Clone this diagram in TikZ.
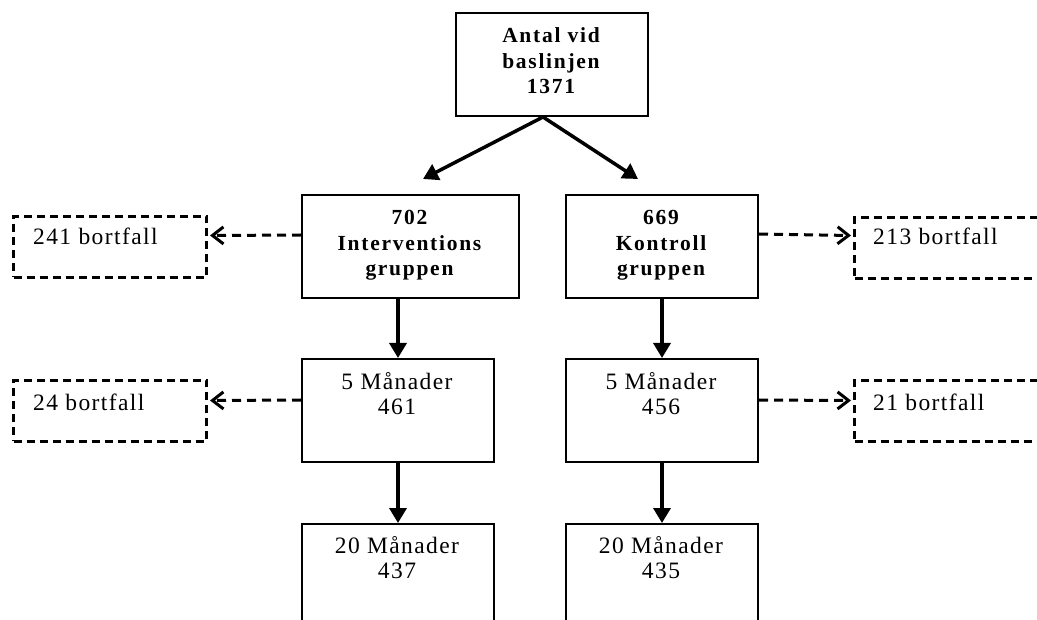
\documentclass[tikz,border=0pt]{standalone}
\usepackage{fontspec}
\setmainfont{Liberation Serif}
\newfontfamily\regsp[LetterSpace=6]{Liberation Serif}
\newfontfamily\boldsp[LetterSpace=8]{Liberation Serif}
\usetikzlibrary{arrows.meta}
\begin{document}
\begin{tikzpicture}[x=1pt,y=-1pt,
  box/.style={draw, line width=2pt, rectangle, inner sep=0pt, anchor=north west},
  dbox/.style={draw, line width=3pt, dash pattern=on 8pt off 5pt, rectangle, inner sep=0pt, anchor=north west},
  rtxt/.style={font={\regsp\fontsize{23.5}{25.5}\selectfont}, inner sep=0pt, align=center},
  btxt/.style={font={\boldsp\bfseries\fontsize{21.5}{25.5}\selectfont}, inner sep=0pt, align=center},
  arr/.style={line width=3.5pt, -{Triangle[length=15pt,width=17pt]}},
  darr/.style={line width=3pt, dash pattern=on 9pt off 6pt, -{Straight Barb[length=11pt,width=17pt]}}]
\path[use as bounding box, clip] (0,0) rectangle (1037,620);
\fill[white] (0,0) rectangle (1037,620);
% boxes
\node[box, minimum width=192pt, minimum height=103pt] (top) at (455,12) {};
\node[box, minimum width=217pt, minimum height=103pt] (ml) at (301,194) {};
\node[box, minimum width=192pt, minimum height=103pt] (mr) at (565,194) {};
\node[box, minimum width=192pt, minimum height=103pt] (m5l) at (301,358) {};
\node[box, minimum width=192pt, minimum height=103pt] (m5r) at (565,358) {};
\node[box, minimum width=192pt, minimum height=130pt] (m20l) at (301,523) {};
\node[box, minimum width=192pt, minimum height=130pt] (m20r) at (565,523) {};
\node[dbox, minimum width=193pt, minimum height=61pt] (dl1) at (12,215) {};
\node[dbox, minimum width=193pt, minimum height=61pt] (dl2) at (12,379) {};
\node[dbox, minimum width=230pt, minimum height=61pt] (dr1) at (853,216) {};
\node[dbox, minimum width=230pt, minimum height=61pt] (dr2) at (853,379) {};
% texts
\node[btxt, anchor=north] (ttop) at (551,27.5) {Antal vid\\baslinjen\\1371};
\node[btxt, anchor=north] (tml) at (409.5,210.5) {702\\Interventions\\gruppen};
\node[btxt, anchor=north] (tmr) at (661,210.5) {669\\Kontroll\\gruppen};
\node[rtxt, anchor=north] (tm5l) at (397,372) {5 Månader\\461};
\node[rtxt, anchor=north] (tm5r) at (661,372) {5 Månader\\456};
\node[rtxt, anchor=north] (tm20l) at (397,536) {20 Månader\\437};
\node[rtxt, anchor=north] (tm20r) at (661,536) {20 Månader\\435};
\node[rtxt, anchor=base west] (tdl1) at (33,245) {241 bortfall};
\node[rtxt, anchor=base west] (tdl2) at (33,410) {24 bortfall};
\node[rtxt, anchor=base west] (tdr1) at (873,245) {213 bortfall};
\node[rtxt, anchor=base west] (tdr2) at (873,410) {21 bortfall};
% connectors
\draw[arr] ([xshift=-9pt]top.south) -- ([xshift=12.5pt,yshift=15pt]ml.north);
\draw[arr] ([xshift=-9pt]top.south) -- ([xshift=-24pt,yshift=15pt]mr.north);
\draw[arr] (m5l.north |- ml.south) -- (m5l.north);
\draw[arr] (m5r.north |- mr.south) -- (m5r.north);
\draw[arr] (m5l.south) -- (m20l.north);
\draw[arr] (m5r.south) -- (m20r.north);
\draw[darr] ([yshift=11.5pt]ml.west) -- ([yshift=11.5pt,xshift=2pt]dl1.east);
\draw[darr] ([yshift=12.5pt]mr.east) -- ([yshift=12.5pt,xshift=-2pt]dr1.west);
\draw[darr] ([yshift=10.5pt]m5l.west) -- ([yshift=10.5pt,xshift=2pt]dl2.east);
\draw[darr] ([yshift=10.5pt]m5r.east) -- ([yshift=10.5pt,xshift=-2pt]dr2.west);
\end{tikzpicture}
\end{document}
